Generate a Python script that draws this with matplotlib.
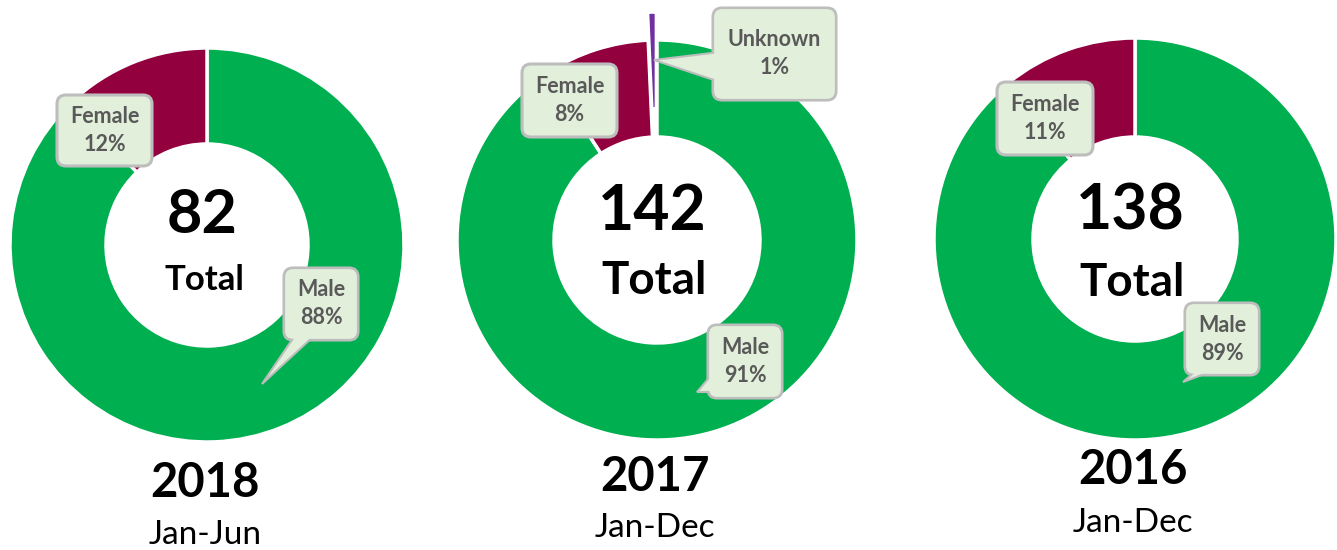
import matplotlib
matplotlib.use("Agg")
import matplotlib.pyplot as plt
from matplotlib.patches import FancyBboxPatch, Polygon

plt.rcParams['font.family'] = ['Lato', 'DejaVu Sans']

# ---- data ----
years = ["2018", "2017", "2016"]
periods = ["Jan-Jun", "Jan-Dec", "Jan-Dec"]
totals = [82, 142, 138]
categories = [["Male", "Female"], ["Male", "Female", "Unknown"], ["Male", "Female"]]
counts = [[72, 10], [129, 12, 1], [123, 15]]
percents = [[88, 12], [91, 8, 1], [89, 11]]

colors = {"Male": "#00AF50", "Female": "#93003E", "Unknown": "#7030A0"}

W, H = 1337, 550
fig = plt.figure(figsize=(W / 100, H / 100), dpi=100)
ax = fig.add_axes([0, 0, 1, 1])

def Y(y):
    return H - y

# layout (pixel positions)
centers = [(207, 245), (657, 240), (1135, 239)]
radii = [197, 200, 201]
holes = [101, 103, 102]
explodes = [[0, 0], [0, 0, 28], [0, 0]]   # offsets in pixels
num_y = [215, 212, 212]
num_size = [44, 45, 45]
total_y = [280, 281, 283]
total_size = [25, 33, 33]
year_y = [483, 477, 470]
period_y = [535, 528, 523]

for i in range(3):
    cx, cy = centers[i]
    R = radii[i]
    ax.pie(counts[i], radius=R, center=(cx, Y(cy)), startangle=90,
           counterclock=False, explode=explodes[i],
           colors=[colors[c] for c in categories[i]],
           wedgeprops=dict(width=R - holes[i], edgecolor="white", linewidth=2.5))
    ax.text(cx - 5, Y(num_y[i]), str(totals[i]), ha="center", va="center",
            fontsize=num_size[i], fontweight="bold", color="black")
    ax.text(cx - 3, Y(total_y[i]), "Total", ha="center", va="center",
            fontsize=total_size[i], fontweight="bold", color="black")
    ax.text(cx - 2, Y(year_y[i]), years[i], ha="center", va="center",
            fontsize=34, fontweight="bold", color="black")
    ax.text(cx - 2, Y(period_y[i]), periods[i], ha="center", va="center",
            fontsize=24, color="black")

# callouts: (chart index, category index, box x0, x1, y0, y1, tail or None)
callouts = [
    (0, 1, 57, 152, 95, 166, None),
    (0, 0, 284, 358, 268, 340, [(296, 334), (316, 334), (262, 384)]),
    (1, 1, 522, 617, 64, 137, None),
    (1, 2, 713, 836, 8, 100, [(720, 52), (720, 82), (654, 60)]),
    (1, 0, 708, 782, 325, 398, [(714, 372), (714, 392), (697, 392)]),
    (2, 1, 997, 1093, 82, 155, None),
    (2, 0, 1185, 1259, 303, 375, [(1198, 369), (1218, 369), (1183, 382)]),
]
box_fc = "#E2EFDA"
box_ec = "#BDBDBD"
for (ci, k, x0, x1, y0, y1, tail) in callouts:
    box = FancyBboxPatch((x0, Y(y1)), x1 - x0, y1 - y0,
                         boxstyle="round,pad=0,rounding_size=9",
                         fc=box_fc, ec=box_ec, lw=2.2, zorder=3)
    ax.add_patch(box)
    if tail:
        pts = [(x, Y(y)) for x, y in tail]
        ax.add_patch(Polygon(pts, closed=True, fc=box_fc, ec=box_ec, lw=1.5, zorder=4))
        cover = FancyBboxPatch((x0 + 1.2, Y(y1) + 1.2), x1 - x0 - 2.4, y1 - y0 - 2.4,
                               boxstyle="round,pad=0,rounding_size=8",
                               fc=box_fc, ec="none", zorder=5)
        ax.add_patch(cover)
    xc = (x0 + x1) / 2
    ym = (y0 + y1) / 2
    ax.text(xc, Y(ym - 14), categories[ci][k], ha="center", va="center",
            fontsize=15.5, fontweight="bold", color="#595959", zorder=6)
    ax.text(xc, Y(ym + 14), f"{percents[ci][k]}%", ha="center", va="center",
            fontsize=15.5, fontweight="bold", color="#595959", zorder=6)

ax.set_xlim(0, W)
ax.set_ylim(0, H)
ax.set_aspect("equal")
ax.axis("off")
fig.savefig("out.png", dpi=100)
